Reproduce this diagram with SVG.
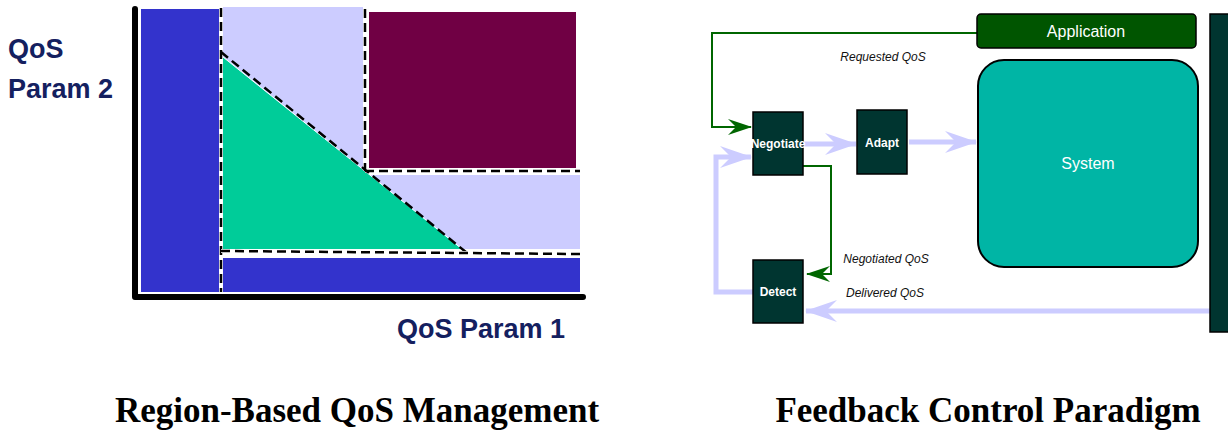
<svg xmlns="http://www.w3.org/2000/svg" width="1228" height="430" viewBox="0 0 1228 430">
<style>
.axislbl{font-family:"Liberation Sans",Arial,sans-serif;font-weight:bold;font-size:27px;fill:#14205f}
.caption{font-family:"Liberation Serif","Times New Roman",serif;font-weight:bold;font-size:35px;fill:#000}
.dash{fill:none;stroke:#000;stroke-width:2.5;stroke-dasharray:9 5}
.dashbg{fill:none;stroke:#fff;stroke-width:4}
.box{fill:#003530;stroke:#000;stroke-width:1.5}
.boxt{font-family:"Liberation Sans",Arial,sans-serif;font-weight:bold;font-size:12px;fill:#fff;text-anchor:middle}
.lbl{font-family:"Liberation Sans",Arial,sans-serif;font-style:italic;font-size:12px;fill:#111;text-anchor:middle}
.lav{fill:none;stroke:#ccccff;stroke-width:5}
.grn{fill:none;stroke:#006600;stroke-width:2}
</style>
<defs>
<marker id="aL" markerUnits="userSpaceOnUse" viewBox="0 0 32 22" markerWidth="32" markerHeight="22" refX="31" refY="11" orient="auto">
<path d="M0,0 L32,11 L0,22 L11,11 Z" fill="#ccccff"/>
</marker>
<marker id="aG" markerUnits="userSpaceOnUse" viewBox="0 0 24 16" markerWidth="24" markerHeight="16" refX="23" refY="8" orient="auto">
<path d="M0,0 L24,8 L0,16 L8,8 Z" fill="#006600"/>
</marker>
</defs>
<rect width="1228" height="430" fill="#fff"/>

<g id="region-chart">
<rect x="141" y="9" width="79" height="283" fill="#3333cc"/>
<rect x="223" y="7" width="140" height="242" fill="#ccccff"/>
<rect x="363" y="175" width="217" height="74" fill="#ccccff"/>
<rect x="369" y="12" width="207" height="156" fill="#700044"/>
<polygon points="223,57 223,249 462,249" fill="#00cc99"/>
<line x1="223" y1="57" x2="462" y2="249" stroke="#fff" stroke-width="1"/>
<rect x="223" y="258" width="357" height="34" fill="#3333cc"/>
<line class="dashbg" x1="221" y1="8" x2="221" y2="292"/>
<line class="dash" x1="221" y1="8" x2="221" y2="292"/>
<line class="dashbg" x1="365" y1="9" x2="365" y2="171"/>
<line class="dash" x1="365" y1="9" x2="365" y2="171"/>
<line class="dashbg" x1="365" y1="171" x2="580" y2="171"/>
<line class="dash" x1="365" y1="171" x2="580" y2="171"/>
<line class="dash" x1="221" y1="52" x2="467" y2="253"/>
<line class="dashbg" x1="221" y1="251" x2="580" y2="254"/>
<line class="dash" x1="221" y1="251" x2="580" y2="254"/>
<path d="M135,9 L135,297 L583,297" fill="none" stroke="#000" stroke-width="6" stroke-linecap="round" stroke-linejoin="round"/>
<text class="axislbl" x="8" y="58">QoS</text>
<text class="axislbl" x="8" y="98">Param 2</text>
<text class="axislbl" x="397" y="338">QoS Param 1</text>
</g>

<g id="connectors">
<polyline class="grn" points="977,33 712,33 712,127 751,127" marker-end="url(#aG)"/>
<polyline class="grn" points="803,166 831,166 831,274 807,274" marker-end="url(#aG)"/>
<line class="lav" x1="803" y1="144" x2="856" y2="144" marker-end="url(#aL)"/>
<line class="lav" x1="909" y1="142" x2="976" y2="142" marker-end="url(#aL)"/>
<line class="lav" x1="1210" y1="311" x2="806" y2="311" marker-end="url(#aL)"/>
<polyline class="lav" points="753,292 716,292 716,157 751,157" marker-end="url(#aL)"/>
</g>

<g id="application">
<rect x="977" y="14" width="219" height="34" rx="4" fill="#005500" stroke="#000" stroke-width="1.5"/>
<text x="1086" y="37" font-family="Liberation Sans, Arial, sans-serif" font-size="16" fill="#fff" text-anchor="middle">Application</text>
</g>
<g id="system">
<rect x="978" y="60" width="220" height="207" rx="26" fill="#00b5a5" stroke="#000" stroke-width="2"/>
<text x="1088" y="169" font-family="Liberation Sans, Arial, sans-serif" font-size="16" fill="#fff" text-anchor="middle">System</text>
</g>
<g id="environment">
<rect x="1210" y="14" width="24" height="318" fill="#003530" stroke="#000" stroke-width="1.5"/>
</g>
<g id="negotiate">
<rect class="box" x="753" y="112" width="50" height="63"/>
<text class="boxt" x="778" y="148">Negotiate</text>
</g>
<g id="adapt">
<rect class="box" x="857" y="110" width="50" height="64"/>
<text class="boxt" x="882" y="147">Adapt</text>
</g>
<g id="detect">
<rect class="box" x="753" y="260" width="50" height="63"/>
<text class="boxt" x="778" y="296">Detect</text>
</g>
<g id="labels">
<text class="lbl" x="883" y="61">Requested QoS</text>
<text class="lbl" x="886" y="263">Negotiated QoS</text>
<text class="lbl" x="885" y="297">Delivered QoS</text>
</g>

<text class="caption" x="357" y="422" text-anchor="middle">Region-Based QoS Management</text>
<text class="caption" x="988" y="422" text-anchor="middle">Feedback Control Paradigm</text>
</svg>
